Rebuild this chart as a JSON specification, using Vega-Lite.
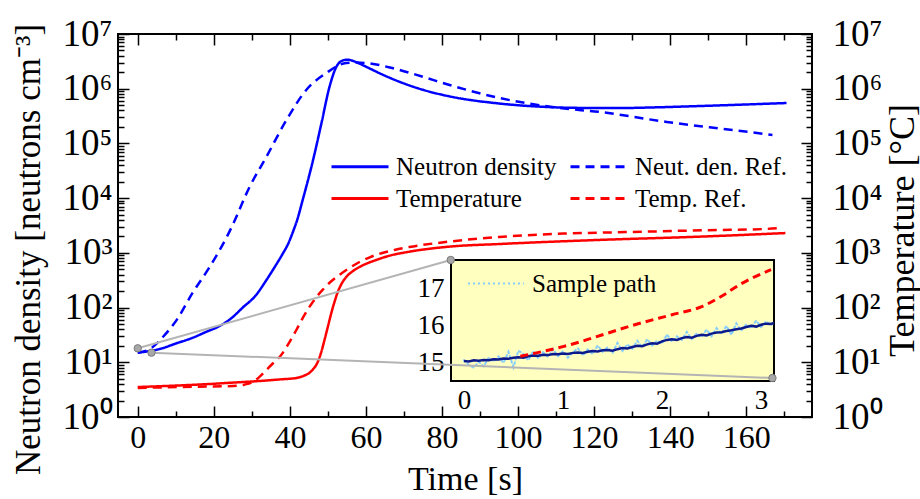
{
  "$schema": "https://vega.github.io/schema/vega-lite/v6.json",
  "width": 694,
  "height": 383,
  "autosize": "none",
  "padding": {"left": 118, "top": 34, "right": 108, "bottom": 82},
  "background": "white",
  "config": {
    "font": "Liberation Serif",
    "view": {"stroke": "black", "strokeWidth": 2},
    "axis": {"grid": false, "domain": false, "tickColor": "black", "labelColor": "black", "titleColor": "black", "labelFont": "Liberation Serif", "titleFont": "Liberation Serif", "titleFontWeight": "normal", "tickWidth": 1.5},
    "legend": {"labelFont": "Liberation Serif", "labelColor": "black"}
  },
  "datasets": {
    "nd": [
      {"t": 0, "v": 15}, {"t": 3, "v": 16}, {"t": 5.8, "v": 17.5}, {"t": 10, "v": 22}, {"t": 14.4, "v": 28}, {"t": 18, "v": 36}, {"t": 21.5, "v": 46}, {"t": 24.5, "v": 63}, {"t": 27.6, "v": 100}, {"t": 31, "v": 166}, {"t": 33.8, "v": 316}, {"t": 36, "v": 550}, {"t": 38, "v": 933}, {"t": 39.5, "v": 1445}, {"t": 41, "v": 2630}, {"t": 42, "v": 4170}, {"t": 43.3, "v": 8900}, {"t": 45.9, "v": 43650}, {"t": 48.3, "v": 234000}, {"t": 50.4, "v": 1070000}, {"t": 52.2, "v": 2500000}, {"t": 54, "v": 3300000}, {"t": 55.2, "v": 3400000}, {"t": 56.5, "v": 3240000}, {"t": 58.3, "v": 2880000}, {"t": 61, "v": 2340000}, {"t": 64.3, "v": 1820000}, {"t": 68.7, "v": 1350000}, {"t": 75, "v": 955000}, {"t": 82, "v": 724000}, {"t": 95, "v": 537000}, {"t": 108, "v": 462000}, {"t": 118, "v": 445000}, {"t": 127, "v": 444000}, {"t": 137, "v": 458000}, {"t": 148, "v": 483000}, {"t": 160, "v": 515000}, {"t": 170.6, "v": 548000}
    ],
    "ndref": [
      {"t": 0, "v": 15}, {"t": 3.6, "v": 18.2}, {"t": 6.6, "v": 29}, {"t": 10.2, "v": 59}, {"t": 14.4, "v": 185}, {"t": 18.9, "v": 552}, {"t": 23.4, "v": 1950}, {"t": 24.7, "v": 2970}, {"t": 29.4, "v": 16000}, {"t": 33.8, "v": 56500}, {"t": 39.1, "v": 268000}, {"t": 44.3, "v": 950000}, {"t": 49.6, "v": 1940000}, {"t": 54.8, "v": 2950000}, {"t": 57.5, "v": 3000000}, {"t": 60.1, "v": 2950000}, {"t": 66.9, "v": 2390000}, {"t": 75, "v": 1650000}, {"t": 82, "v": 1170000}, {"t": 95, "v": 680000}, {"t": 111, "v": 444000}, {"t": 121.5, "v": 376000}, {"t": 139.1, "v": 247000}, {"t": 156.4, "v": 176000}, {"t": 166.9, "v": 143000}
    ],
    "temp": [
      {"t": 0, "v": 3.53}, {"t": 10, "v": 3.75}, {"t": 18.9, "v": 4.01}, {"t": 25, "v": 4.25}, {"t": 32, "v": 4.55}, {"t": 38, "v": 4.9}, {"t": 41.7, "v": 5.16}, {"t": 44, "v": 5.8}, {"t": 45.1, "v": 6.37}, {"t": 46.2, "v": 7.6}, {"t": 47.2, "v": 9.7}, {"t": 48.2, "v": 15}, {"t": 49.1, "v": 25.5}, {"t": 50, "v": 45}, {"t": 50.9, "v": 79.7}, {"t": 51.7, "v": 125}, {"t": 52.5, "v": 185}, {"t": 53.5, "v": 265}, {"t": 54.8, "v": 362}, {"t": 56.5, "v": 460}, {"t": 58.3, "v": 552}, {"t": 60.5, "v": 650}, {"t": 62.7, "v": 741}, {"t": 66, "v": 880}, {"t": 71.4, "v": 1050}, {"t": 82, "v": 1300}, {"t": 95, "v": 1450}, {"t": 121, "v": 1720}, {"t": 148, "v": 1980}, {"t": 170.3, "v": 2300}
    ],
    "tempref": [
      {"t": 0, "v": 3.39}, {"t": 10.2, "v": 3.53}, {"t": 25, "v": 3.69}, {"t": 28, "v": 3.9}, {"t": 30.2, "v": 4.36}, {"t": 32, "v": 5.4}, {"t": 33.8, "v": 7.23}, {"t": 35.5, "v": 9.5}, {"t": 37.3, "v": 12.5}, {"t": 39.5, "v": 21}, {"t": 41.7, "v": 38.9}, {"t": 43.4, "v": 65}, {"t": 45.1, "v": 102}, {"t": 46.8, "v": 150}, {"t": 48.6, "v": 210}, {"t": 50.8, "v": 300}, {"t": 53, "v": 394}, {"t": 55.5, "v": 520}, {"t": 58.3, "v": 681}, {"t": 61, "v": 830}, {"t": 64.3, "v": 995}, {"t": 67.5, "v": 1130}, {"t": 71.4, "v": 1280}, {"t": 80, "v": 1550}, {"t": 95, "v": 1950}, {"t": 112, "v": 2250}, {"t": 129.9, "v": 2405}, {"t": 150, "v": 2600}, {"t": 165, "v": 2730}, {"t": 169.2, "v": 2850}
    ],
    "box": [{"x0": -0.13, "x1": 3.13, "y0": 14.49, "y1": 17.76}],
    "navy": [
      {"t": 0, "v": 15.03}, {"t": 0.05, "v": 15.02}, {"t": 0.1, "v": 15.05}, {"t": 0.15, "v": 15.04}, {"t": 0.2, "v": 15.06}, {"t": 0.25, "v": 15.05}, {"t": 0.3, "v": 15.08}, {"t": 0.35, "v": 15.07}, {"t": 0.4, "v": 15.1}, {"t": 0.45, "v": 15.09}, {"t": 0.5, "v": 15.12}, {"t": 0.55, "v": 15.13}, {"t": 0.6, "v": 15.12}, {"t": 0.65, "v": 15.16}, {"t": 0.7, "v": 15.18}, {"t": 0.75, "v": 15.17}, {"t": 0.8, "v": 15.2}, {"t": 0.85, "v": 15.19}, {"t": 0.9, "v": 15.22}, {"t": 0.95, "v": 15.21}, {"t": 1, "v": 15.23}, {"t": 1.05, "v": 15.22}, {"t": 1.1, "v": 15.25}, {"t": 1.15, "v": 15.26}, {"t": 1.2, "v": 15.25}, {"t": 1.25, "v": 15.28}, {"t": 1.3, "v": 15.3}, {"t": 1.35, "v": 15.29}, {"t": 1.4, "v": 15.32}, {"t": 1.45, "v": 15.33}, {"t": 1.5, "v": 15.31}, {"t": 1.55, "v": 15.35}, {"t": 1.6, "v": 15.38}, {"t": 1.65, "v": 15.37}, {"t": 1.7, "v": 15.41}, {"t": 1.75, "v": 15.44}, {"t": 1.8, "v": 15.43}, {"t": 1.85, "v": 15.48}, {"t": 1.9, "v": 15.51}, {"t": 1.95, "v": 15.5}, {"t": 2, "v": 15.56}, {"t": 2.05, "v": 15.6}, {"t": 2.1, "v": 15.62}, {"t": 2.15, "v": 15.6}, {"t": 2.2, "v": 15.65}, {"t": 2.25, "v": 15.68}, {"t": 2.3, "v": 15.66}, {"t": 2.35, "v": 15.71}, {"t": 2.4, "v": 15.74}, {"t": 2.45, "v": 15.72}, {"t": 2.5, "v": 15.77}, {"t": 2.55, "v": 15.8}, {"t": 2.6, "v": 15.81}, {"t": 2.65, "v": 15.84}, {"t": 2.7, "v": 15.86}, {"t": 2.75, "v": 15.89}, {"t": 2.8, "v": 15.91}, {"t": 2.85, "v": 15.95}, {"t": 2.9, "v": 15.98}, {"t": 2.95, "v": 15.96}, {"t": 3, "v": 16.01}, {"t": 3.05, "v": 16.04}, {"t": 3.1, "v": 16.03}, {"t": 3.13, "v": 16.06}
    ],
    "sample": [
      {"t": 0, "v": 15.05}, {"t": 0.05, "v": 14.92}, {"t": 0.1, "v": 14.85}, {"t": 0.15, "v": 15.01}, {"t": 0.2, "v": 14.88}, {"t": 0.25, "v": 15.12}, {"t": 0.3, "v": 15.02}, {"t": 0.35, "v": 15.15}, {"t": 0.4, "v": 14.98}, {"t": 0.45, "v": 15.28}, {"t": 0.5, "v": 14.86}, {"t": 0.55, "v": 15.31}, {"t": 0.6, "v": 15.22}, {"t": 0.65, "v": 15.05}, {"t": 0.7, "v": 15.3}, {"t": 0.75, "v": 15.1}, {"t": 0.8, "v": 15.27}, {"t": 0.85, "v": 15.14}, {"t": 0.9, "v": 15.35}, {"t": 0.95, "v": 15.16}, {"t": 1, "v": 15.3}, {"t": 1.05, "v": 15.12}, {"t": 1.1, "v": 15.26}, {"t": 1.15, "v": 15.38}, {"t": 1.2, "v": 15.18}, {"t": 1.25, "v": 15.34}, {"t": 1.3, "v": 15.22}, {"t": 1.35, "v": 15.45}, {"t": 1.4, "v": 15.28}, {"t": 1.45, "v": 15.4}, {"t": 1.5, "v": 15.25}, {"t": 1.55, "v": 15.52}, {"t": 1.6, "v": 15.3}, {"t": 1.65, "v": 15.48}, {"t": 1.7, "v": 15.36}, {"t": 1.75, "v": 15.58}, {"t": 1.8, "v": 15.4}, {"t": 1.85, "v": 15.62}, {"t": 1.9, "v": 15.45}, {"t": 1.95, "v": 15.58}, {"t": 2, "v": 15.5}, {"t": 2.05, "v": 15.75}, {"t": 2.1, "v": 15.55}, {"t": 2.15, "v": 15.7}, {"t": 2.2, "v": 15.6}, {"t": 2.25, "v": 15.82}, {"t": 2.3, "v": 15.62}, {"t": 2.35, "v": 15.78}, {"t": 2.4, "v": 15.68}, {"t": 2.45, "v": 15.88}, {"t": 2.5, "v": 15.7}, {"t": 2.55, "v": 15.92}, {"t": 2.6, "v": 15.76}, {"t": 2.65, "v": 15.98}, {"t": 2.7, "v": 15.74}, {"t": 2.75, "v": 16.05}, {"t": 2.8, "v": 15.85}, {"t": 2.85, "v": 16.02}, {"t": 2.9, "v": 15.92}, {"t": 2.95, "v": 16.12}, {"t": 3, "v": 15.95}, {"t": 3.05, "v": 16.1}, {"t": 3.1, "v": 16}, {"t": 3.13, "v": 16.08}
    ],
    "redin": [
      {"t": 0.57, "v": 15.16}, {"t": 0.8, "v": 15.29}, {"t": 1, "v": 15.42}, {"t": 1.2, "v": 15.57}, {"t": 1.4, "v": 15.74}, {"t": 1.75, "v": 16.03}, {"t": 2.1, "v": 16.28}, {"t": 2.4, "v": 16.5}, {"t": 2.6, "v": 16.78}, {"t": 2.8, "v": 17.12}, {"t": 3.1, "v": 17.5}
    ],
    "links": [
      {"t": 0, "v": 18, "t2": 82.3, "v2": 741},
      {"t": 3.6, "v": 15, "t2": 166.9, "v2": 5.16}
    ],
    "dots": [
      {"t": 0, "v": 18}, {"t": 3.6, "v": 15}, {"t": 82.3, "v": 741}, {"t": 166.9, "v": 5.16}
    ]
  },
  "layer": [
    {
      "layer": [
        {
          "data": {"name": "nd"},
          "mark": {"type": "line", "strokeWidth": 2.5, "interpolate": "monotone"},
          "encoding": {
            "x": {"field": "t", "type": "quantitative", "scale": {"domain": [-5.2, 177.3], "nice": false, "zero": false},
              "axis": {"orient": "bottom", "values": [0, 20, 40, 60, 80, 100, 120, 140, 160], "format": "d", "title": "Time [s]", "tickSize": -11, "labelPadding": 16, "labelFontSize": 32, "titleFontSize": 34, "titlePadding": 9}},
            "y": {"field": "v", "type": "quantitative", "scale": {"type": "log", "domain": [1, 10000000], "nice": false},
              "axis": {"orient": "left", "values": [1, 10, 100, 1000, 10000, 100000, 1000000, 10000000], "labelExpr": "'10' + substring('⁰¹²³⁴⁵⁶⁷', round(log(datum.value)/LN10), round(log(datum.value)/LN10)+1)", "title": "Neutron density [neutrons cm⁻³]", "tickSize": -11, "labelPadding": 17, "labelFontSize": 37, "titleFontSize": 35, "titleX": -90, "titleY": 215, "titleBaseline": "middle"}},
            "color": {"datum": "Neutron density", "type": "nominal", "scale": {"domain": ["Neutron density", "Temperature", "Neut. den. Ref.", "Temp. Ref."], "range": ["#0000FF", "#FF0000", "#0000FF", "#FF0000"]},
              "legend": {"orient": "none", "legendX": 212, "legendY": 120, "columns": 2, "columnPadding": 12, "rowPadding": 6, "clipHeight": 25, "symbolType": "stroke", "symbolSize": 3249, "symbolStrokeWidth": 3, "labelFontSize": 25, "labelOffset": 6, "labelLimit": 0, "title": null, "padding": 0}},
            "strokeDash": {"datum": "Neutron density", "type": "nominal", "scale": {"domain": ["Neutron density", "Temperature", "Neut. den. Ref.", "Temp. Ref."], "range": [[1, 0], [1, 0], [9, 6], [9, 6]]},
              "legend": {"orient": "none", "legendX": 212, "legendY": 120, "columns": 2, "columnPadding": 12, "rowPadding": 6, "clipHeight": 25, "symbolType": "stroke", "symbolSize": 3249, "symbolStrokeWidth": 3, "labelFontSize": 25, "labelOffset": 6, "labelLimit": 0, "title": null, "padding": 0}}
          }
        },
        {
          "data": {"name": "ndref"},
          "mark": {"type": "line", "strokeWidth": 2.5, "interpolate": "monotone"},
          "encoding": {
            "x": {"field": "t", "type": "quantitative", "scale": {"domain": [-5.2, 177.3], "nice": false, "zero": false},
              "axis": {"orient": "top", "values": [0, 20, 40, 60, 80, 100, 120, 140, 160], "labels": false, "tickSize": -11, "title": null}},
            "y": {"field": "v", "type": "quantitative", "scale": {"type": "log", "domain": [1, 10000000], "nice": false},
              "axis": {"orient": "right", "values": [1, 10, 100, 1000, 10000, 100000, 1000000, 10000000], "labelExpr": "'10' + substring('⁰¹²³⁴⁵⁶⁷', round(log(datum.value)/LN10), round(log(datum.value)/LN10)+1)", "title": "Temperature [°C]", "titleAngle": 270, "titleX": 90, "titleY": 196, "titleBaseline": "middle", "tickSize": -11, "labelPadding": 31, "labelFontSize": 37, "titleFontSize": 36}},
            "color": {"datum": "Neut. den. Ref.", "type": "nominal"},
            "strokeDash": {"datum": "Neut. den. Ref.", "type": "nominal"}
          }
        },
        {
          "data": {"name": "temp"},
          "mark": {"type": "line", "strokeWidth": 2.5, "interpolate": "monotone"},
          "encoding": {
            "x": {"field": "t", "type": "quantitative", "scale": {"domain": [-5.2, 177.3], "nice": false, "zero": false},
              "axis": {"orient": "bottom", "values": [10, 30, 50, 70, 90, 110, 130, 150, 170], "labels": false, "tickSize": -6, "title": null}},
            "y": {"field": "v", "type": "quantitative", "scale": {"type": "log", "domain": [1, 10000000], "nice": false},
              "axis": {"orient": "left", "values": [2,3,4,5,6,7,8,9,20,30,40,50,60,70,80,90,200,300,400,500,600,700,800,900,2000,3000,4000,5000,6000,7000,8000,9000,20000,30000,40000,50000,60000,70000,80000,90000,200000,300000,400000,500000,600000,700000,800000,900000,2000000,3000000,4000000,5000000,6000000,7000000,8000000,9000000], "labels": false, "tickSize": -6, "title": null}},
            "color": {"datum": "Temperature", "type": "nominal"},
            "strokeDash": {"datum": "Temperature", "type": "nominal"}
          }
        },
        {
          "data": {"name": "tempref"},
          "mark": {"type": "line", "strokeWidth": 2.5, "interpolate": "monotone"},
          "encoding": {
            "x": {"field": "t", "type": "quantitative", "scale": {"domain": [-5.2, 177.3], "nice": false, "zero": false},
              "axis": {"orient": "top", "values": [10, 30, 50, 70, 90, 110, 130, 150, 170], "labels": false, "tickSize": -6, "title": null}},
            "y": {"field": "v", "type": "quantitative", "scale": {"type": "log", "domain": [1, 10000000], "nice": false},
              "axis": {"orient": "right", "values": [2,3,4,5,6,7,8,9,20,30,40,50,60,70,80,90,200,300,400,500,600,700,800,900,2000,3000,4000,5000,6000,7000,8000,9000,20000,30000,40000,50000,60000,70000,80000,90000,200000,300000,400000,500000,600000,700000,800000,900000,2000000,3000000,4000000,5000000,6000000,7000000,8000000,9000000], "labels": false, "tickSize": -6, "title": null}},
            "color": {"datum": "Temp. Ref.", "type": "nominal"},
            "strokeDash": {"datum": "Temp. Ref.", "type": "nominal"}
          }
        }
      ],
      "resolve": {"axis": {"x": "independent", "y": "independent"}}
    },
    {
      "layer": [
        {
          "data": {"name": "box"},
          "mark": {"type": "rect", "fill": "#FFFFC0", "stroke": "black", "strokeWidth": 2},
          "encoding": {
            "x": {"field": "x0", "type": "quantitative", "scale": {"domain": [-0.13, 3.13], "range": [333, 656], "nice": false, "zero": false},
              "axis": {"orient": "bottom", "offset": -36, "values": [0, 1, 2, 3], "format": "d", "tickSize": -8, "labelFontSize": 27, "labelPadding": 14, "title": null}},
            "x2": {"field": "x1"},
            "y": {"field": "y0", "type": "quantitative", "scale": {"domain": [14.49, 17.76], "range": [347, 226], "nice": false, "zero": false},
              "axis": {"orient": "left", "offset": -333, "values": [15, 16, 17], "format": "d", "tickSize": -8, "labelFontSize": 27, "labelPadding": 15, "title": null}},
            "y2": {"field": "y1"}
          }
        },
        {
          "data": {"name": "sample"},
          "mark": {"type": "line", "strokeDash": [2, 3], "strokeWidth": 2, "strokeCap": "round"},
          "encoding": {
            "x": {"field": "t", "type": "quantitative", "scale": {"domain": [-0.13, 3.13], "range": [333, 656], "nice": false, "zero": false},
              "axis": {"orient": "top", "offset": -226, "values": [0, 1, 2, 3], "labels": false, "tickSize": -8, "title": null}},
            "y": {"field": "v", "type": "quantitative", "scale": {"domain": [14.49, 17.76], "range": [347, 226], "nice": false, "zero": false},
              "axis": {"orient": "right", "offset": -38, "values": [15, 16, 17], "labels": false, "tickSize": -8, "title": null}},
            "color": {"datum": "Sample path", "type": "nominal", "scale": {"domain": ["Sample path"], "range": ["#87CEFA"]},
              "legend": {"orient": "none", "legendX": 349, "legendY": 237, "clipHeight": 25, "symbolType": "stroke", "symbolSize": 3136, "symbolStrokeWidth": 2, "symbolDash": [2, 3], "labelFontSize": 25, "labelOffset": 7, "title": null, "padding": 0}}
          }
        },
        {
          "data": {"name": "navy"},
          "mark": {"type": "line", "color": "#0D1A8C", "strokeWidth": 2.5},
          "encoding": {
            "x": {"field": "t", "type": "quantitative", "scale": {"domain": [-0.13, 3.13], "range": [333, 656], "nice": false, "zero": false},
              "axis": {"orient": "bottom", "offset": -36, "values": [0.5, 1.5, 2.5], "labels": false, "tickSize": -5, "title": null}},
            "y": {"field": "v", "type": "quantitative", "scale": {"domain": [14.49, 17.76], "range": [347, 226], "nice": false, "zero": false},
              "axis": {"orient": "left", "offset": -333, "values": [15.5, 16.5, 17.5], "labels": false, "tickSize": -5, "title": null}}
          }
        },
        {
          "data": {"name": "redin"},
          "mark": {"type": "line", "color": "#FF0000", "strokeWidth": 3, "strokeDash": [8, 5], "interpolate": "monotone"},
          "encoding": {
            "x": {"field": "t", "type": "quantitative", "scale": {"domain": [-0.13, 3.13], "range": [333, 656], "nice": false, "zero": false},
              "axis": {"orient": "top", "offset": -226, "values": [0.5, 1.5, 2.5], "labels": false, "tickSize": -5, "title": null}},
            "y": {"field": "v", "type": "quantitative", "scale": {"domain": [14.49, 17.76], "range": [347, 226], "nice": false, "zero": false},
              "axis": {"orient": "right", "offset": -38, "values": [15.5, 16.5, 17.5], "labels": false, "tickSize": -5, "title": null}}
          }
        }
      ],
      "resolve": {"axis": {"x": "independent", "y": "independent"}}
    },
    {
      "layer": [
        {
          "data": {"name": "links"},
          "mark": {"type": "rule", "color": "#B4B4B4", "strokeWidth": 2},
          "encoding": {
            "x": {"field": "t", "type": "quantitative", "scale": {"domain": [-5.2, 177.3], "nice": false, "zero": false}, "axis": null},
            "x2": {"field": "t2"},
            "y": {"field": "v", "type": "quantitative", "scale": {"type": "log", "domain": [1, 10000000], "nice": false}, "axis": null},
            "y2": {"field": "v2"}
          }
        },
        {
          "data": {"name": "dots"},
          "mark": {"type": "point", "filled": true, "color": "#A8A8A8", "stroke": "#7A7A7A", "strokeWidth": 1, "size": 55, "opacity": 1},
          "encoding": {
            "x": {"field": "t", "type": "quantitative", "scale": {"domain": [-5.2, 177.3], "nice": false, "zero": false}, "axis": null},
            "y": {"field": "v", "type": "quantitative", "scale": {"type": "log", "domain": [1, 10000000], "nice": false}, "axis": null}
          }
        }
      ]
    }
  ],
  "resolve": {
    "scale": {"x": "independent", "y": "independent", "color": "independent", "strokeDash": "independent"},
    "axis": {"x": "independent", "y": "independent"}
  }
}
